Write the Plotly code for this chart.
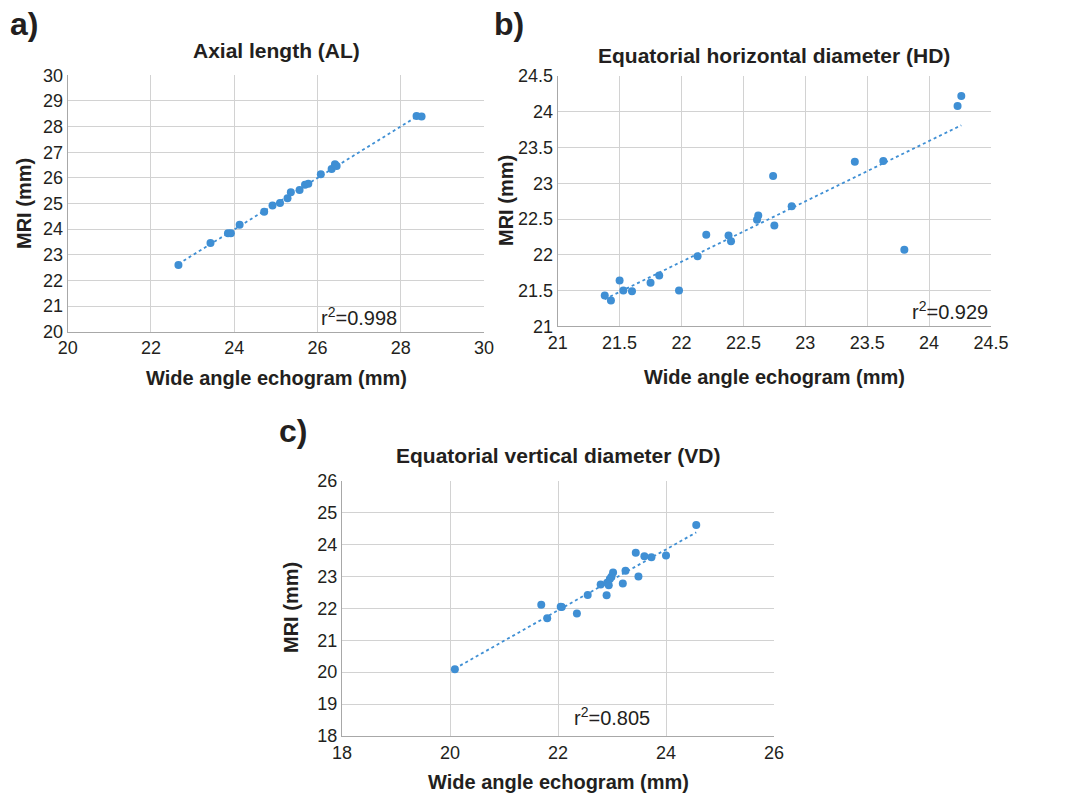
import numpy as np
import plotly.graph_objects as go

W, H = 1080, 793

# ---------- data ----------
al_echo = [22.66, 23.43, 23.85, 23.92, 24.13, 24.72, 24.92, 25.10, 25.28, 25.36,
           25.57, 25.70, 25.78, 26.08, 26.34, 26.42, 26.46, 28.38, 28.50]
al_mri = [22.60, 23.46, 23.84, 23.84, 24.17, 24.68, 24.92, 25.02, 25.20, 25.44,
          25.53, 25.73, 25.77, 26.14, 26.35, 26.53, 26.46, 28.41, 28.39]

hd_echo = [21.38, 21.43, 21.50, 21.53, 21.60, 21.75, 21.82, 21.98, 22.13, 22.20,
           22.38, 22.40, 22.61, 22.62, 22.74, 22.75, 22.89, 23.40, 23.63, 23.80,
           24.23, 24.26]
hd_mri = [21.43, 21.36, 21.64, 21.50, 21.49, 21.61, 21.71, 21.50, 21.98, 22.28,
          22.27, 22.19, 22.49, 22.55, 23.10, 22.41, 22.68, 23.30, 23.31, 22.07,
          24.08, 24.22]

vd_echo = [20.09, 21.69, 21.80, 22.05, 22.07, 22.35, 22.55, 22.79, 22.90, 22.91,
           22.94, 22.96, 22.99, 23.02, 23.20, 23.25, 23.44, 23.49, 23.60, 23.73,
           24.00, 24.56]
vd_mri = [20.09, 22.11, 21.69, 22.05, 22.04, 21.84, 22.42, 22.75, 22.41, 22.80,
          22.72, 22.92, 22.99, 23.12, 22.78, 23.18, 23.74, 23.00, 23.63, 23.60,
          23.66, 24.61]

al_ticks = [20, 22, 24, 26, 28, 30]
al_yticks = [20, 21, 22, 23, 24, 25, 26, 27, 28, 29, 30]
hd_ticks = [21, 21.5, 22, 22.5, 23, 23.5, 24, 24.5]
hd_tick_labels = ["21", "21.5", "22", "22.5", "23", "23.5", "24", "24.5"]
vd_xticks = [18, 20, 22, 24, 26]
vd_yticks = [18, 19, 20, 21, 22, 23, 24, 25, 26]

titles = ["Axial length (AL)", "Equatorial horizontal diameter (HD)",
          "Equatorial vertical diameter (VD)"]
r2_labels = ["r<sup>2</sup>=0.998", "r<sup>2</sup>=0.929", "r<sup>2</sup>=0.805"]
panel_labels = ["a)", "b)", "c)"]
x_title = "Wide angle echogram (mm)"
y_title = "MRI (mm)"

# ---------- styling ----------
BLUE = "#3f8fd4"
TXT = "#231f20"
GRID = "#d2d2d2"
AXLINE = "#a8a8a8"
FONT = "Liberation Sans, Arial, sans-serif"

def px_x(x):
    return x / W

def px_y(y):
    return 1 - y / H

# plot areas in pixels: (left, right, top, bottom)
areas = [
    (67.7, 484.0, 75.3, 331.7),
    (557.7, 991.0, 76.0, 326.3),
    (342.0, 774.0, 480.7, 736.0),
]

fig = go.Figure()

datasets = [
    (al_echo, al_mri, [20, 30], [20, 30], al_ticks, [str(t) for t in al_ticks],
     al_yticks, [str(t) for t in al_yticks]),
    (hd_echo, hd_mri, [21, 24.5], [21, 24.5], hd_ticks, hd_tick_labels,
     hd_ticks, hd_tick_labels),
    (vd_echo, vd_mri, [18, 26], [18, 26], vd_xticks, [str(t) for t in vd_xticks],
     vd_yticks, [str(t) for t in vd_yticks]),
]

for i, (xs, ys, xr, yr, xt, xtl, yt, ytl) in enumerate(datasets):
    n = "" if i == 0 else str(i + 1)
    xa, ya = "x" + n, "y" + n
    # trendline (least-squares fit of the data)
    slope, icpt = np.polyfit(xs, ys, 1)
    xline = [min(xs), max(xs)]
    yline = [slope * v + icpt for v in xline]
    fig.add_trace(go.Scatter(x=xline, y=yline, mode="lines", xaxis=xa, yaxis=ya,
                             line=dict(color=BLUE, width=1.8, dash="dot"),
                             showlegend=False, hoverinfo="skip"))
    fig.add_trace(go.Scatter(x=xs, y=ys, mode="markers", xaxis=xa, yaxis=ya,
                             marker=dict(color=BLUE, size=8), showlegend=False))
    l, r, t, b = areas[i]
    axis_common = dict(showgrid=True, gridcolor=GRID, gridwidth=1, zeroline=False,
                       showline=True, linecolor=AXLINE, linewidth=1, mirror=False,
                       ticks="", tickfont=dict(family=FONT, size=18, color=TXT),
                       fixedrange=True, automargin=False)
    fig.update_layout(**{
        ("xaxis" + n): dict(domain=[px_x(l), px_x(r)], range=xr, tickvals=xt,
                            ticktext=xtl, anchor=ya, **axis_common),
        ("yaxis" + n): dict(domain=[px_y(b), px_y(t)], range=yr, tickvals=yt,
                            ticktext=ytl, anchor=xa, **axis_common),
    })

# ---------- annotations ----------
ann = []
def add(text, x, y, size, bold=False, angle=0, xanchor="center"):
    ann.append(dict(text=("<b>%s</b>" % text) if bold else text,
                    x=px_x(x), y=px_y(y), xref="paper", yref="paper",
                    showarrow=False, xanchor=xanchor, yanchor="middle",
                    textangle=angle,
                    font=dict(family=FONT, size=size, color=TXT)))

# panel labels
add(panel_labels[0], 8, 24, 32, bold=True, xanchor="left")
add(panel_labels[1], 492, 24, 32, bold=True, xanchor="left")
add(panel_labels[2], 277, 431, 32, bold=True, xanchor="left")

# titles
add(titles[0], 276, 50, 21, bold=True)
add(titles[1], 774, 56, 21, bold=True)
add(titles[2], 558, 455, 21, bold=True)

# x-axis titles
add(x_title, 276, 378, 20, bold=True)
add(x_title, 774, 377, 20, bold=True)
add(x_title, 558, 782, 20, bold=True)

# y-axis titles
add(y_title, 24, 204, 20, bold=True, angle=-90)
add(y_title, 506, 201, 20, bold=True, angle=-90)
add(y_title, 291, 608, 20, bold=True, angle=-90)

# r² labels
add(r2_labels[0], 359, 316, 20)
add(r2_labels[1], 950, 311, 20)
add(r2_labels[2], 612, 716, 20)

fig.update_layout(autosize=True, margin=dict(l=0, r=0, t=0, b=0, pad=0),
                  paper_bgcolor="white", plot_bgcolor="white",
                  annotations=ann, showlegend=False)

fig.write_html("out.html", config={"displayModeBar": False, "responsive": True},
               default_width="100vw", default_height="100vh",
               post_script="document.documentElement.style.margin='0';"
                           "document.body.style.margin='0';"
                           "document.body.style.overflow='hidden';")
